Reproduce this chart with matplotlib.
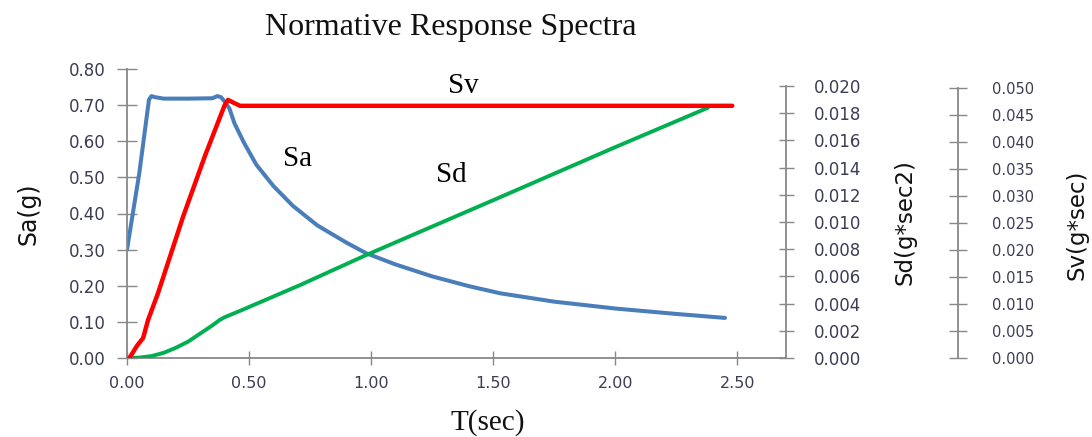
import matplotlib
matplotlib.use('Agg')
import matplotlib.pyplot as plt
from matplotlib.ticker import MultipleLocator, FormatStrFormatter

# Sa (g), left axis
t_sa = [0.00, 0.05, 0.09, 0.10, 0.115, 0.15, 0.25, 0.35, 0.37, 0.385, 0.40,
        0.42, 0.44, 0.48, 0.53, 0.60, 0.68, 0.78, 0.90, 0.98, 1.10,
        1.25, 1.40, 1.53, 1.75, 2.00, 2.25, 2.45]
sa = [0.30, 0.51, 0.715, 0.725, 0.722, 0.718, 0.718, 0.719, 0.725, 0.722,
      0.71, 0.69, 0.65, 0.595, 0.535, 0.476, 0.421, 0.367, 0.319, 0.290,
      0.259, 0.226, 0.199, 0.179, 0.156, 0.137, 0.122, 0.111]

# Sd (g*sec2), first right axis
t_sd = [0.01, 0.05, 0.10, 0.15, 0.20, 0.25, 0.30, 0.35, 0.38, 0.40, 0.43,
        0.47, 0.71, 0.98, 1.50, 2.00, 2.38]
sd = [0.0, 0.00003, 0.00014, 0.00038, 0.00075, 0.0012, 0.0018, 0.0024,
      0.0028, 0.0030, 0.00322, 0.00352, 0.00537, 0.00757, 0.0116, 0.0155,
      0.0184]

# Sv (g*sec), second right axis
t_sv = [0.01, 0.04, 0.066, 0.086, 0.127, 0.23, 0.32, 0.40, 0.414, 0.44,
        0.463, 2.48]
sv = [0.0, 0.0022, 0.0037, 0.0070, 0.0120, 0.0262, 0.0375, 0.0468, 0.0478,
      0.0472, 0.0467, 0.0467]

grey = '#888888'
tick_col = '#3c3c55'

fig = plt.figure(figsize=(10.92, 4.37), dpi=100)
ax = fig.add_axes([127/1092, 79/437, 659/1092, 289/437])
ax2 = ax.twinx()
ax3 = ax.twinx()

ax.plot(t_sa, sa, color='#4a7ebb', lw=2.9, solid_capstyle='round',
        solid_joinstyle='round')
ax2.plot(t_sd, sd, color='#00b050', lw=2.8, solid_capstyle='round',
         solid_joinstyle='round')
ax3.plot(t_sv, sv, color='#ff0000', lw=3.2, solid_capstyle='round',
         solid_joinstyle='round')

ax.set_xlim(0, 2.7)
ax.set_ylim(0, 0.8)
ax2.set_ylim(0, 0.02 * 289 / 272)
ax3.set_ylim(0, 0.05 * 289 / 270)

for a in (ax, ax2, ax3):
    for s in a.spines.values():
        s.set_visible(False)
        s.set_color(grey)
        s.set_linewidth(1.3)

ax.spines['left'].set_visible(True)
ax.spines['bottom'].set_visible(True)
ax2.spines['right'].set_visible(True)
ax2.spines['right'].set_bounds(0, 0.02)
ax3.spines['right'].set_visible(True)
ax3.spines['right'].set_position(('axes', (958 - 127) / 659))
ax3.spines['right'].set_bounds(0, 0.05)

ax.xaxis.set_major_locator(MultipleLocator(0.5))
ax.xaxis.set_major_formatter(FormatStrFormatter('%.2f'))
ax.yaxis.set_major_locator(MultipleLocator(0.1))
ax.yaxis.set_major_formatter(FormatStrFormatter('%.2f'))
ax2.set_yticks([i * 0.002 for i in range(11)])
ax2.yaxis.set_major_formatter(FormatStrFormatter('%.3f'))
ax3.set_yticks([i * 0.005 for i in range(11)])
ax3.yaxis.set_major_formatter(FormatStrFormatter('%.3f'))

ax.tick_params(axis='y', direction='inout', length=13.7, width=1, color=grey,
               pad=8.5, labelsize=12, labelcolor=tick_col)
ax.tick_params(axis='x', direction='inout', length=9.4, width=1, color=grey,
               pad=8, labelsize=11.5, labelcolor=tick_col)
ax2.tick_params(axis='y', direction='inout', length=10.8, width=1, color=grey,
                pad=14.5, labelsize=12, labelcolor=tick_col)
ax3.tick_params(axis='y', direction='inout', length=13, width=1, color=grey,
                pad=18, labelsize=10.5, labelcolor=tick_col)

serif = 'Liberation Serif'
fig.text(451/1092, 1 - 28/437, 'Normative Response Spectra', family=serif,
         fontsize=23, ha='center', va='center', color='#111111')
fig.text(488/1092, 1 - 423/437, 'T(sec)', family=serif, fontsize=21,
         ha='center', va='center', color='#111111')
fig.text(28/1092, 1 - 214/437, 'Sa(g)', fontsize=17, rotation=90,
         ha='center', va='center', color='#111111')
fig.text(905/1092, 1 - 222/437, 'Sd(g*sec2)', fontsize=16.5, rotation=90,
         ha='center', va='center', color='#111111')
fig.text(1077/1092, 1 - 225/437, 'Sv(g*sec)', fontsize=16.5, rotation=90,
         ha='center', va='center', color='#111111')

ax.text(0.70, 0.551, 'Sa', family=serif, fontsize=21, ha='center', va='center')
ax.text(1.33, 0.507, 'Sd', family=serif, fontsize=21, ha='center', va='center')
ax.text(1.377, 0.753, 'Sv', family=serif, fontsize=21, ha='center', va='center')

fig.savefig('out.png', dpi=100)
